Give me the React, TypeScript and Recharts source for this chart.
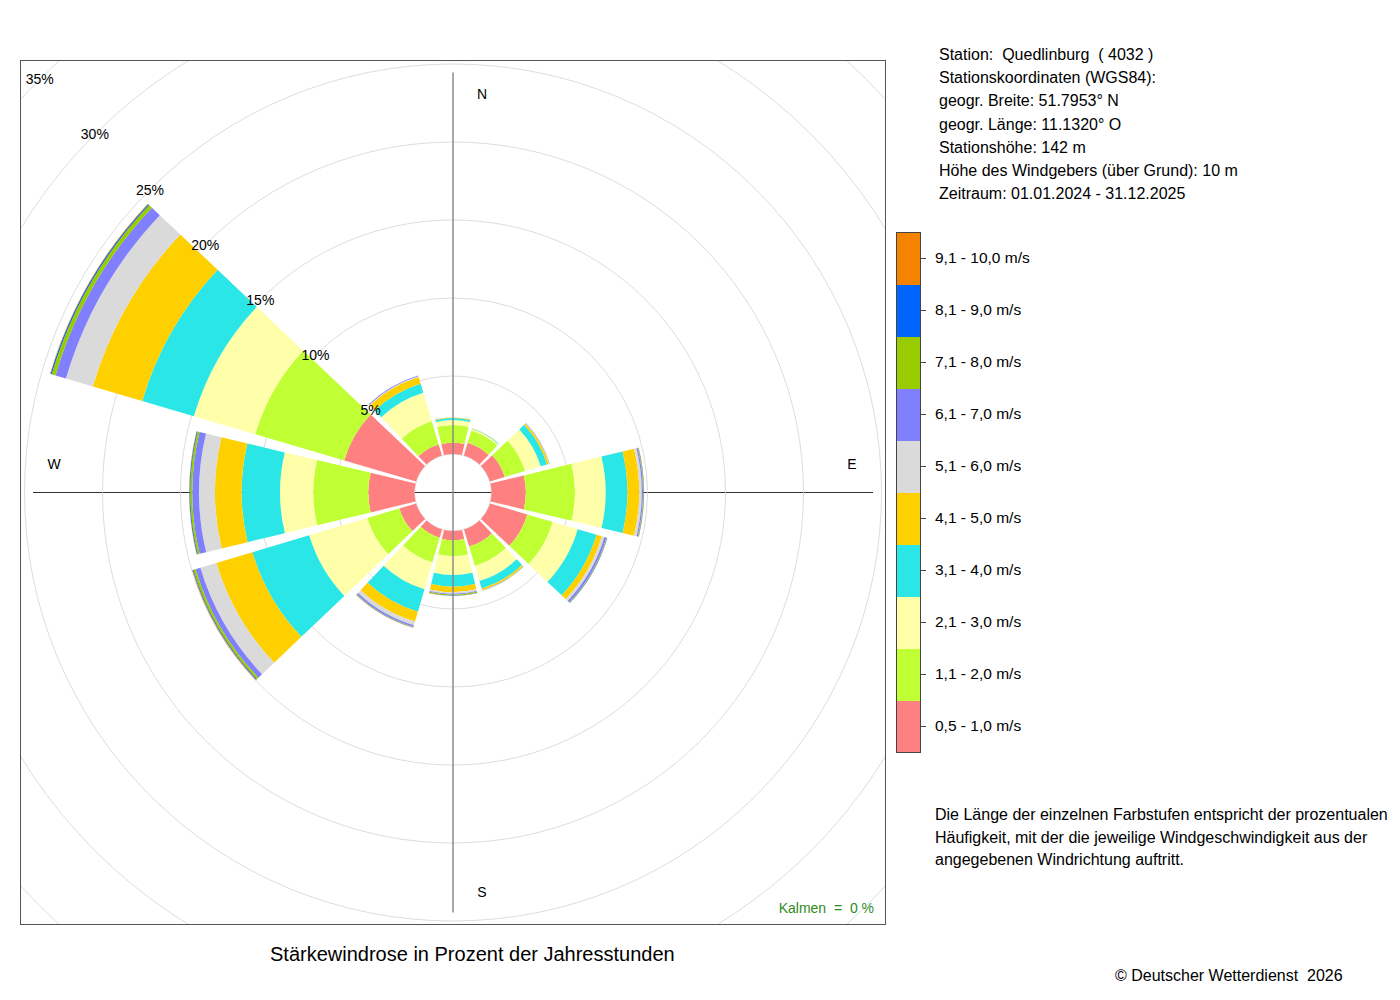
import React from 'react';
import { RadialBarChart, RadialBar, PolarAngleAxis, PolarRadiusAxis, PolarGrid } from 'recharts';

// wind directions (12 sectors, clockwise from north)
const directions = ['N', 'NNO', 'ONO', 'O', 'OSO', 'SSO', 'S', 'SSW', 'WSW', 'W', 'WNW', 'NNW'];

// frequency (% of hours) per speed class and direction
const s05_10 = [0.72, 0.85, 1.0, 2.2, 2.5, 1.15, 0.6, 0.55, 1.12, 2.96, 4.8, 0.75];
const s11_20 = [1.14, 0.82, 1.35, 3.15, 1.7, 1.3, 1.02, 1.65, 2.15, 3.53, 5.95, 1.55];
const s21_30 = [0.32, 0.1, 1.05, 1.97, 1.67, 1.0, 1.2, 1.8, 3.88, 2.13, 4.1, 1.9];
const s31_40 = [0.12, 0.04, 0.42, 1.39, 1.25, 0.5, 0.75, 1.5, 3.8, 2.46, 3.45, 0.6];
const s41_50 = [0.04, 0.01, 0.12, 0.76, 0.36, 0.1, 0.35, 0.65, 2.41, 1.71, 3.3, 0.45];
const s51_60 = [0.01, 0.0, 0.03, 0.16, 0.17, 0.02, 0.1, 0.25, 1.07, 1.02, 1.8, 0.05];
const s61_70 = [0.01, 0.0, 0.02, 0.08, 0.13, 0.02, 0.06, 0.1, 0.32, 0.43, 0.7, 0.05];
const s71_80 = [0.0, 0.0, 0.01, 0.04, 0.04, 0.01, 0.06, 0.04, 0.15, 0.13, 0.25, 0.01];
const s81_90 = [0.0, 0.0, 0.0, 0.02, 0.02, 0.0, 0.02, 0.02, 0.05, 0.05, 0.08, 0.0];
const s91_100 = [0.0, 0.0, 0.0, 0.01, 0.01, 0.0, 0.01, 0.01, 0.03, 0.02, 0.03, 0.0];

const classKeys = ['c1', 'c2', 'c3', 'c4', 'c5', 'c6', 'c7', 'c8', 'c9', 'c10'];
const classSeries = [s05_10, s11_20, s21_30, s31_40, s41_50, s51_60, s61_70, s71_80, s81_90, s91_100];
const classLabels = [
  '0,5 - 1,0 m/s',
  '1,1 - 2,0 m/s',
  '2,1 - 3,0 m/s',
  '3,1 - 4,0 m/s',
  '4,1 - 5,0 m/s',
  '5,1 - 6,0 m/s',
  '6,1 - 7,0 m/s',
  '7,1 - 8,0 m/s',
  '8,1 - 9,0 m/s',
  '9,1 - 10,0 m/s',
];
const classColors = ['#FF8080', '#BFFF33', '#FFFFAA', '#2AE6E6', '#FFD000', '#DADADA', '#8080FF', '#99CC00', '#0064FF', '#F58300'];

const radiusTicks = [0, 5, 10, 15, 20, 25, 30, 35];

const infoLines = [
  'Station:  Quedlinburg  ( 4032 )',
  'Stationskoordinaten (WGS84):',
  'geogr. Breite: 51.7953° N',
  'geogr. Länge: 11.1320° O',
  'Stationshöhe: 142 m',
  'Höhe des Windgebers (über Grund): 10 m',
  'Zeitraum: 01.01.2024 - 31.12.2025',
];
const noteLines = [
  'Die Länge der einzelnen Farbstufen entspricht der prozentualen',
  'Häufigkeit, mit der die jeweilige Windgeschwindigkeit aus der',
  'angegebenen Windrichtung auftritt.',
];

const data = directions.map((dir, i) => {
  const row: Record<string, any> = { dir };
  classKeys.forEach((k, j) => {
    row[k] = classSeries[j][i];
  });
  return row;
});

const FONT = '"Liberation Sans", Arial, Helvetica, sans-serif';

// frame / chart geometry
const FRAME_L = 20;
const FRAME_T = 60;
const FRAME_W = 866;
const FRAME_H = 865;
const CX = 433;
const CY = 432.5;
const HOLE = 38.5;
const OUTER = 584.5;
const CROSS = 420;

const RingTick = (props: any) => {
  const { x, y, payload } = props;
  if (!payload || payload.value === 0) return <g />;
  return (
    <text x={x} y={y} textAnchor="middle" dominantBaseline="central" fontSize={14} fontFamily={FONT} fill="#000">
      {payload.value}%
    </text>
  );
};

const compassStyle: React.CSSProperties = {
  position: 'absolute',
  fontSize: 14,
  fontFamily: FONT,
  color: '#000',
  lineHeight: '16px',
  transform: 'translate(-50%, -50%)',
};

export default function App() {
  const legendTop = 232;
  const boxH = 52;
  return (
    <div style={{ position: 'absolute', left: 0, top: 0, width: 1400, height: 1000, background: '#fff', fontFamily: FONT }}>
      {/* plot frame */}
      <div
        style={{
          position: 'absolute',
          left: FRAME_L,
          top: FRAME_T,
          width: FRAME_W,
          height: FRAME_H,
          overflow: 'hidden',
        }}
      >
        {/* horizontal axis line (under the bars) */}
        <svg width={FRAME_W} height={FRAME_H} style={{ position: 'absolute', left: 0, top: 0 }}>
          <line x1={CX - CROSS} y1={CY} x2={CX + CROSS} y2={CY} stroke="#333" strokeWidth={1} />
        </svg>
        <div style={{ position: 'absolute', left: 0, top: 0 }}>
          <RadialBarChart
            width={FRAME_W}
            height={FRAME_H}
            data={data}
            layout="centric"
            cx={CX}
            cy={CY}
            innerRadius={HOLE}
            outerRadius={OUTER}
            startAngle={75}
            endAngle={-285}
            barCategoryGap="5.3%"
            margin={{ top: 0, right: 0, bottom: 0, left: 0 }}
          >
            <PolarGrid gridType="circle" radialLines={false} stroke="#dddddd" strokeWidth={1} />
            <PolarAngleAxis type="category" dataKey="dir" tick={false} tickLine={false} axisLine={false} />
            <PolarRadiusAxis
              type="number"
              angle={135}
              domain={[0, 35]}
              ticks={radiusTicks as any}
              tickCount={8}
              axisLine={false}
              tickLine={false}
              tick={RingTick}
            />
            {classKeys.map((k, j) => (
              <RadialBar
                key={k}
                dataKey={k}
                stackId="a"
                fill={classColors[j]}
                stroke="none"
                isAnimationActive={false}
              />
            ))}
          </RadialBarChart>
        </div>
        {/* vertical axis line (over the bars) */}
        <svg width={FRAME_W} height={FRAME_H} style={{ position: 'absolute', left: 0, top: 0, pointerEvents: 'none' }}>
          <line x1={CX} y1={CY - CROSS} x2={CX} y2={CY + CROSS} stroke="#858585" strokeWidth={1.4} />
        </svg>
        <div style={{ ...compassStyle, left: CX + 29, top: CY - 398.5 }}>N</div>
        <div style={{ ...compassStyle, left: CX + 29, top: CY + 399.5 }}>S</div>
        <div style={{ ...compassStyle, left: CX - 399, top: CY - 28.5 }}>W</div>
        <div style={{ ...compassStyle, left: CX + 399, top: CY - 28.5 }}>E</div>
        <div
          style={{
            position: 'absolute',
            right: FRAME_W - 854,
            top: 840,
            fontSize: 14,
            lineHeight: '16px',
            color: '#2E8B22',
            whiteSpace: 'pre',
          }}
        >
          {'Kalmen  =  0 %'}
        </div>
      </div>
      {/* frame border */}
      <div
        style={{
          position: 'absolute',
          left: FRAME_L,
          top: FRAME_T,
          width: FRAME_W,
          height: FRAME_H,
          border: '1px solid #555',
          boxSizing: 'border-box',
          pointerEvents: 'none',
        }}
      />

      {/* title */}
      <div
        style={{
          position: 'absolute',
          left: 270,
          width: 400,
          top: 942,
          textAlign: 'center',
          fontSize: 20,
          lineHeight: '24px',
          whiteSpace: 'nowrap',
          color: '#000',
        }}
      >
        Stärkewindrose in Prozent der Jahresstunden
      </div>

      {/* station info */}
      {infoLines.map((t, i) => (
        <div
          key={i}
          style={{
            position: 'absolute',
            left: 939,
            top: 45 + i * 23.2,
            fontSize: 16,
            lineHeight: '20px',
            whiteSpace: 'pre',
            color: '#000',
          }}
        >
          {t}
        </div>
      ))}

      {/* colour legend */}
      <div
        style={{
          position: 'absolute',
          left: 896,
          top: legendTop,
          width: 25,
          height: boxH * classColors.length + 1,
          border: '1px solid #444',
          boxSizing: 'border-box',
          overflow: 'hidden',
        }}
      >
        {classColors
          .map((c, j) => ({ c, j }))
          .reverse()
          .map(({ c, j }) => (
            <div key={j} style={{ width: '100%', height: boxH, background: c }} />
          ))}
      </div>
      {classLabels
        .map((l, j) => ({ l, j }))
        .reverse()
        .map(({ l, j }, idx) => (
          <React.Fragment key={j}>
            <div
              style={{
                position: 'absolute',
                left: 921,
                top: legendTop + idx * boxH + boxH / 2,
                width: 5,
                height: 1,
                background: '#444',
              }}
            />
            <div
              style={{
                position: 'absolute',
                left: 935,
                top: legendTop + idx * boxH + boxH / 2 - 10,
                fontSize: 15.5,
                lineHeight: '20px',
                whiteSpace: 'pre',
                color: '#000',
              }}
            >
              {l}
            </div>
          </React.Fragment>
        ))}

      {/* explanation */}
      {noteLines.map((t, i) => (
        <div
          key={i}
          style={{
            position: 'absolute',
            left: 935,
            top: 805 + i * 22.5,
            fontSize: 16,
            lineHeight: '20px',
            whiteSpace: 'pre',
            color: '#000',
          }}
        >
          {t}
        </div>
      ))}

      <div
        style={{
          position: 'absolute',
          left: 1115,
          top: 966,
          fontSize: 16,
          lineHeight: '20px',
          whiteSpace: 'pre',
          color: '#000',
        }}
      >
        {'© Deutscher Wetterdienst  2026'}
      </div>
    </div>
  );
}
